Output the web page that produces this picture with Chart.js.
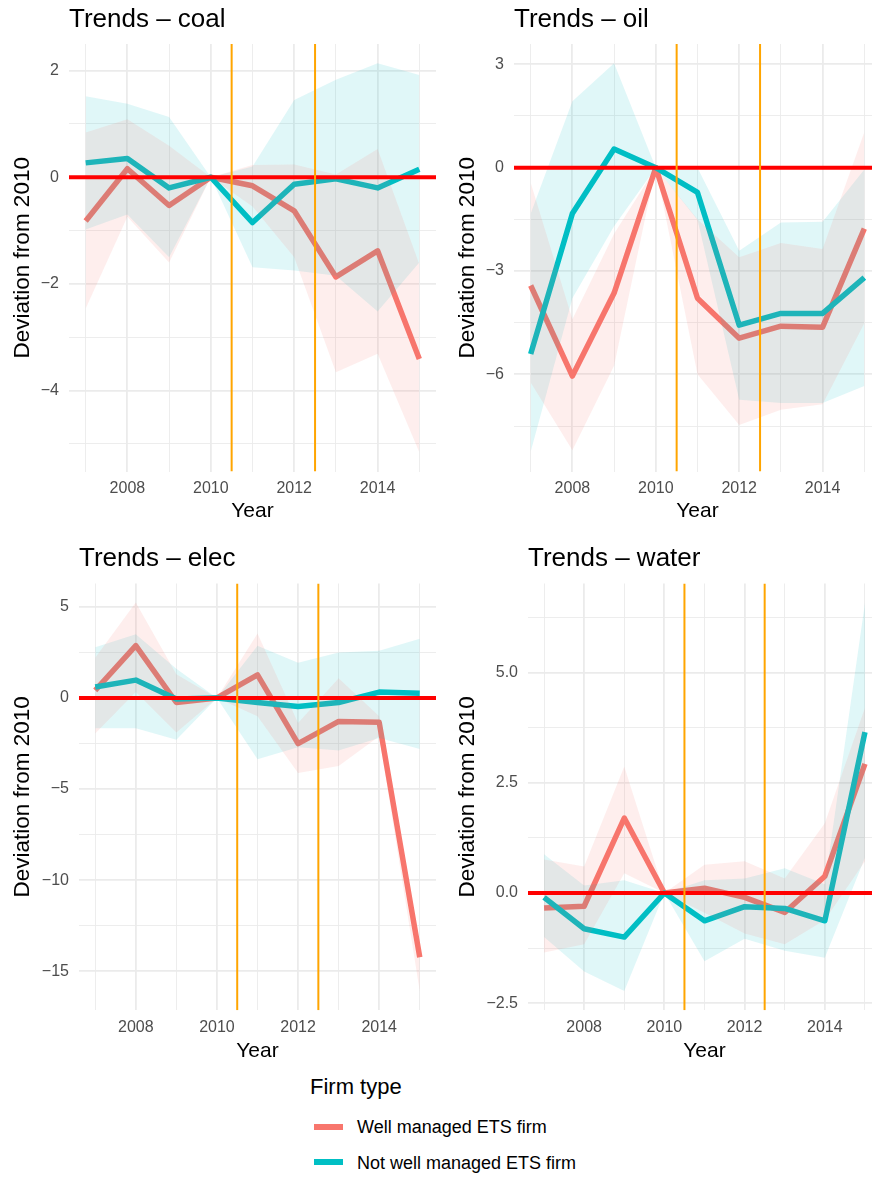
<!DOCTYPE html>
<html>
<head>
<meta charset="utf-8">
<script src="https://cdn.jsdelivr.net/npm/chart.js@4.4.1/dist/chart.umd.min.js"></script>
<style>
  html, body { margin: 0; padding: 0; background: #fff; }
  #page { position: relative; width: 872px; height: 1178px; overflow: hidden;
          font-family: "Liberation Sans", Arial, sans-serif; }
  canvas { position: absolute; }
  .ptitle { position: absolute; font-size: 26px; line-height: 26px; color: #000; white-space: nowrap; }
  .lgtitle { position: absolute; font-size: 22px; line-height: 22px; color: #000; white-space: nowrap; }
  .lgtext { position: absolute; font-size: 18px; line-height: 18px; color: #000; white-space: nowrap; }
  .swatch { position: absolute; width: 29px; height: 6px; }
</style>
</head>
<body>
<div id="page">
  <canvas id="cCoal" width="440" height="530" style="left:0;top:0"></canvas>
  <canvas id="cOil" width="441" height="530" style="left:440px;top:0"></canvas>
  <canvas id="cElec" width="440" height="540" style="left:0;top:530px"></canvas>
  <canvas id="cWater" width="441" height="540" style="left:440px;top:530px"></canvas>

  <div class="ptitle" style="left:69px;top:5px">Trends – coal</div>
  <div class="ptitle" style="left:514px;top:5px">Trends – oil</div>
  <div class="ptitle" style="left:79px;top:543.5px">Trends – elec</div>
  <div class="ptitle" style="left:528px;top:543.5px">Trends – water</div>

  <div class="lgtitle" style="left:310px;top:1076px">Firm type</div>
  <div class="swatch" style="left:314px;top:1124px;background:#F8766D"></div>
  <div class="lgtext" style="left:357px;top:1118px">Well managed ETS firm</div>
  <div class="swatch" style="left:314px;top:1159px;background:#00BFC4"></div>
  <div class="lgtext" style="left:357px;top:1154px">Not well managed ETS firm</div>
</div>
<script>
// Years on the x axis and which of them carry a label
const years = [2007, 2008, 2009, 2010, 2011, 2012, 2013, 2014, 2015];
const xLabelYears = [2008, 2010, 2012, 2014];
const policyYears = [2010.5, 2012.5];

// Coal: estimate and confidence band for each firm type
const coalWell   = [-0.82, 0.16, -0.53, 0, -0.16, -0.63, -1.87, -1.38, -3.41];
const coalWellHi = [0.84, 1.09, 0.59, 0, 0.23, 0.24, 0.05, 0.53, -1.63];
const coalWellLo = [-2.46, -0.74, -1.60, 0, -0.55, -1.50, -3.66, -3.31, -5.16];
const coalNot    = [0.27, 0.35, -0.20, 0, -0.85, -0.13, -0.03, -0.20, 0.15];
const coalNotHi  = [1.52, 1.38, 1.13, 0, 0.20, 1.45, 1.83, 2.14, 1.92];
const coalNotLo  = [-0.98, -0.70, -1.50, 0, -1.69, -1.75, -1.85, -2.52, -1.60];
const coalYTicks = [-5, -4, -3, -2, -1, 0, 1, 2];
const coalYLabels = [-4, -2, 0, 2];

// Oil
const oilWell   = [-3.42, -6.05, -3.64, 0, -3.79, -4.95, -4.60, -4.63, -1.77];
const oilWellHi = [-0.44, -4.40, -1.92, 0, -1.50, -2.60, -2.19, -2.36, 1.03];
const oilWellLo = [-6.24, -8.20, -5.75, 0, -6.00, -7.47, -7.03, -6.87, -4.52];
const oilNot    = [-5.41, -1.33, 0.54, 0, -0.72, -4.57, -4.23, -4.23, -3.19];
const oilNotHi  = [-1.33, 1.93, 3.03, 0, 0.00, -2.41, -1.59, -1.57, -0.05];
const oilNotLo  = [-8.25, -3.79, -1.70, 0, -1.52, -6.74, -6.83, -6.83, -6.34];
const oilYTicks = [-7.5, -6, -4.5, -3, -1.5, 0, 1.5, 3];
const oilYLabels = [-6, -3, 0, 3];

// Electricity
const elecWell   = [0.42, 2.87, -0.25, 0, 1.27, -2.51, -1.29, -1.34, -14.23];
const elecWellHi = [2.20, 5.24, 1.30, 0, 3.53, -1.38, 1.08, -1.00, -13.90];
const elecWellLo = [-1.95, 0.32, -1.90, 0, -1.00, -4.12, -3.74, -2.10, -16.10];
const elecNot    = [0.60, 0.98, -0.06, 0, -0.25, -0.47, -0.25, 0.32, 0.26];
const elecNotHi  = [2.78, 3.50, 1.60, 0, 2.87, 1.93, 2.50, 2.59, 3.25];
const elecNotLo  = [-1.66, -1.66, -2.30, 0, -3.36, -2.70, -2.89, -2.20, -2.80];
const elecYTicks = [-15, -12.5, -10, -7.5, -5, -2.5, 0, 2.5, 5];
const elecYLabels = [-15, -10, -5, 0, 5];

// Water
const waterWell   = [-0.34, -0.30, 1.70, 0, 0.11, -0.10, -0.44, 0.38, 2.93];
const waterWellHi = [0.76, 0.60, 2.87, 0, 0.64, 0.72, 0.33, 1.58, 4.20];
const waterWellLo = [-1.35, -1.16, 0.45, 0, -0.45, -0.92, -1.16, -0.61, 0.72];
const waterNot    = [-0.10, -0.81, -1.00, 0, -0.63, -0.31, -0.35, -0.63, 3.65];
const waterNotHi  = [0.88, 0.17, 0.29, 0, 0.29, 0.33, 0.56, 0.20, 6.58];
const waterNotLo  = [-1.00, -1.78, -2.22, 0, -1.55, -1.04, -1.31, -1.47, 0.80];
const waterYTicks = [-2.5, -1.25, 0, 1.25, 2.5, 3.75, 5, 6.25];
const waterYLabels = [-2.5, 0, 2.5, 5];

const RED = '#F8766D', CYAN = '#00BFC4';
const RED_BAND = 'rgba(248,118,109,0.12)', CYAN_BAND = 'rgba(0,191,196,0.12)';
const GRID = '#EBEBEB';
const X_MIN = 2006.6, X_MAX = 2015.4;

Chart.defaults.font.family = '"Liberation Sans", Arial, sans-serif';

const pts = arr => years.map((x, i) => ({ x, y: arr[i] }));
const near = (v, list) => list.some(t => Math.abs(t - v) < 1e-6);
const minusSign = s => s.replace('-', '\u2212');

function drawPanel(id, o) {
  const line = (data, color, order) => ({
    data: pts(data), borderColor: color, borderWidth: 5.5, pointRadius: 0,
    fill: false, tension: 0, borderJoinStyle: 'round', borderCapStyle: 'butt', order
  });
  const bandEdge = (data, fill, color, order) => ({
    data: pts(data), borderWidth: 0, borderColor: 'rgba(0,0,0,0)', pointRadius: 0,
    fill, backgroundColor: color, tension: 0, order
  });
  const vline = (x, order) => ({
    data: [{ x, y: o.yMin }, { x, y: o.yMax }], borderColor: '#FFA500', borderWidth: 2,
    pointRadius: 0, fill: false, order
  });

  new Chart(document.getElementById(id), {
    type: 'line',
    data: {
      datasets: [
        line(o.well, RED, 6),
        line(o.not, CYAN, 5),
        bandEdge(o.notHi, '+1', CYAN_BAND, 4),
        bandEdge(o.notLo, false, CYAN_BAND, 4),
        bandEdge(o.wellHi, '+1', RED_BAND, 3),
        bandEdge(o.wellLo, false, RED_BAND, 3),
        { data: [{ x: X_MIN, y: 0 }, { x: X_MAX, y: 0 }], borderColor: '#FF0000',
          borderWidth: 4, pointRadius: 0, fill: false, order: 2 },
        vline(policyYears[0], 1),
        vline(policyYears[1], 1)
      ]
    },
    options: {
      responsive: false,
      animation: false,
      events: [],
      layout: { padding: o.pad },
      plugins: { legend: { display: false }, tooltip: { enabled: false }, title: { display: false } },
      scales: {
        x: {
          type: 'linear', min: X_MIN, max: X_MAX, bounds: 'data',
          afterBuildTicks: s => { s.ticks = years.map(v => ({ value: v })); },
          afterFit: s => { s.height = o.axisH; },
          grid: { color: GRID, drawTicks: false,
                  lineWidth: c => c.tick ? (near(c.tick.value, xLabelYears) ? 1.8 : 0.9) : 0 },
          border: { display: false },
          ticks: { autoSkip: false, maxRotation: 0, padding: o.tickPad, color: '#4D4D4D', font: { size: 16 },
                   callback: v => near(v, xLabelYears) ? String(v) : '' },
          title: { display: true, text: 'Year', color: '#000', font: { size: 21 }, padding: { top: 0, bottom: 0 } }
        },
        y: {
          type: 'linear', min: o.yMin, max: o.yMax, bounds: 'data',
          afterBuildTicks: s => { s.ticks = o.yTicks.map(v => ({ value: v })); },
          afterFit: s => { s.width = o.axisW; },
          grid: { color: GRID, drawTicks: false,
                  lineWidth: c => c.tick ? (near(c.tick.value, o.yLabels) ? 1.8 : 0.9) : 0 },
          border: { display: false },
          ticks: { autoSkip: false, padding: 10, color: '#4D4D4D', font: { size: 16 },
                   callback: v => near(v, o.yLabels) ? minusSign(o.fmt(v)) : '' },
          title: { display: true, text: 'Deviation from 2010', color: '#000', font: { size: 22.5 },
                   padding: { top: o.titlePad, bottom: 0 } }
        }
      }
    }
  });
}

drawPanel('cCoal', {
  well: coalWell, wellHi: coalWellHi, wellLo: coalWellLo,
  not: coalNot, notHi: coalNotHi, notLo: coalNotLo,
  yMin: -5.52, yMax: 2.5, yTicks: coalYTicks, yLabels: coalYLabels, fmt: v => String(v),
  pad: { left: 0, top: 44, right: 4, bottom: 6 }, axisW: 69, axisH: 52.5, tickPad: 7.6, titlePad: 9
});
drawPanel('cOil', {
  well: oilWell, wellHi: oilWellHi, wellLo: oilWellLo,
  not: oilNot, notHi: oilNotHi, notLo: oilNotLo,
  yMin: -8.82, yMax: 3.59, yTicks: oilYTicks, yLabels: oilYLabels, fmt: v => String(v),
  pad: { left: 0, top: 44, right: 0, bottom: 6 }, axisW: 74, axisH: 52.5, tickPad: 7.6, titlePad: 14
});
drawPanel('cElec', {
  well: elecWell, wellHi: elecWellHi, wellLo: elecWellLo,
  not: elecNot, notHi: elecNotHi, notLo: elecNotLo,
  yMin: -17.14, yMax: 6.28, yTicks: elecYTicks, yLabels: elecYLabels, fmt: v => String(v),
  pad: { left: 0, top: 53.5, right: 4, bottom: 6.4 }, axisW: 79, axisH: 53.3, tickPad: 8, titlePad: 9
});
drawPanel('cWater', {
  well: waterWell, wellHi: waterWellHi, wellLo: waterWellLo,
  not: waterNot, notHi: waterNotHi, notLo: waterNotLo,
  yMin: -2.66, yMax: 7.02, yTicks: waterYTicks, yLabels: waterYLabels, fmt: v => v.toFixed(1),
  pad: { left: 0, top: 53.5, right: 0, bottom: 6.4 }, axisW: 88, axisH: 53.3, tickPad: 8, titlePad: 14
});
</script>
</body>
</html>
